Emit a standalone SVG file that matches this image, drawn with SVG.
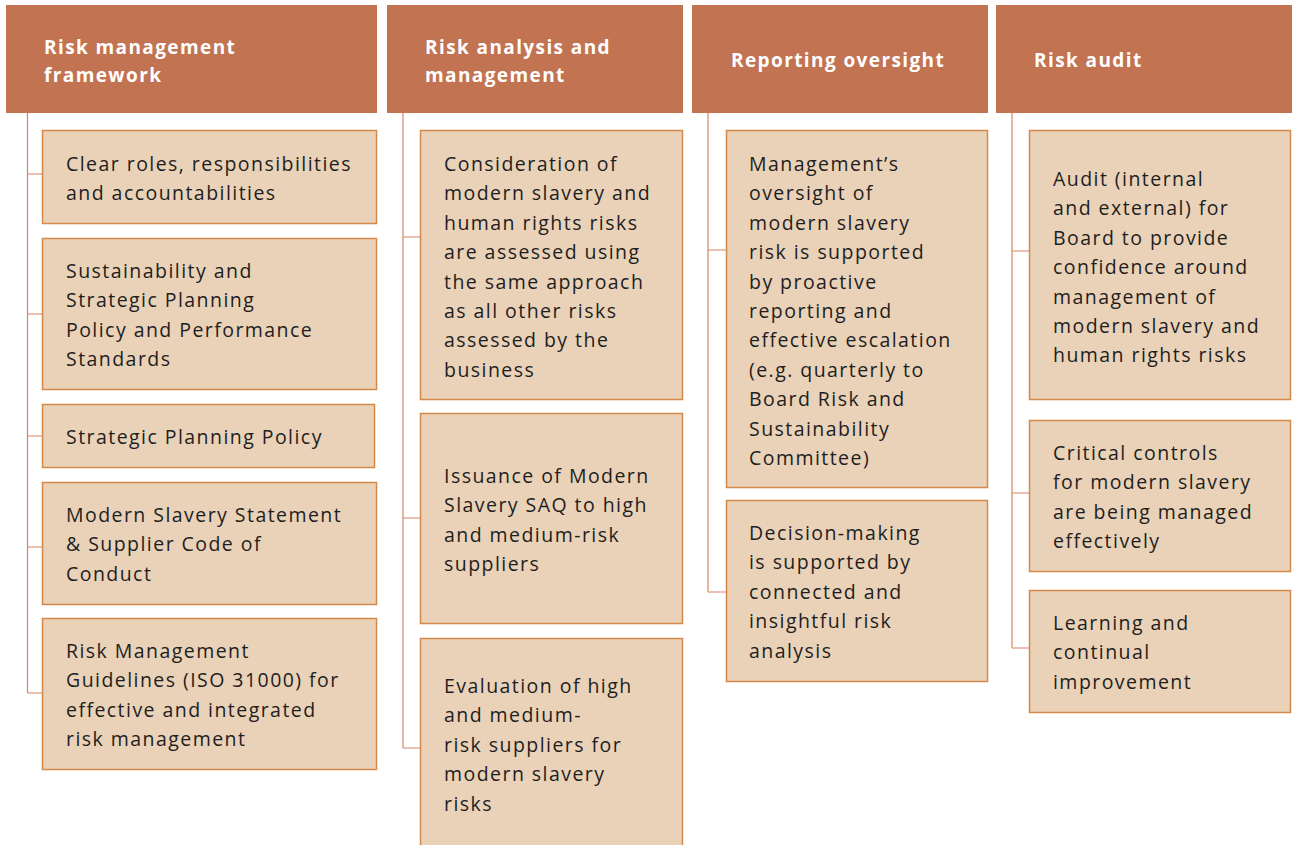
<svg xmlns="http://www.w3.org/2000/svg" width="1292" height="845" viewBox="0 0 1292 845">
  <style>
    .hdr { fill: #C27352; }
    .hdr-t { fill: #ffffff; font-family: "Open Sans", "Liberation Sans", sans-serif; font-weight: 700; font-size: 19px; letter-spacing: 1.4px; }
    .box { fill: #EAD2B8; stroke: #D4884A; stroke-width: 1.5; }
    .txt { fill: #1e1e1e; font-family: "Open Sans", "Liberation Sans", sans-serif; font-size: 19.5px; letter-spacing: 1.45px; }
    .conn { fill: none; stroke: #D98466; stroke-width: 1.2; }
  </style>
  <rect width="1292" height="845" fill="#ffffff"/>

  <!-- connectors: one trunk per column with branches to each box -->
  <g id="connectors">
    <path class="conn" d="M27.5 113 V693 M27.5 174 H42 M27.5 314 H42 M27.5 436 H42 M27.5 547 H42 M27.5 693 H42"/>
    <path class="conn" d="M403 113 V748 M403 237 H420 M403 518 H420 M403 748 H420"/>
    <path class="conn" d="M708 113 V592 M708 250 H726 M708 592 H726"/>
    <path class="conn" d="M1012 113 V648 M1012 251 H1029 M1012 493 H1029 M1012 648 H1029"/>
  </g>

  <!-- column headers -->
  <g id="hdr-framework">
    <rect class="hdr" x="6" y="5" width="371" height="108"/>
    <text class="hdr-t" x="44" y="54">Risk management</text>
    <text class="hdr-t" x="44" y="82">framework</text>
  </g>
  <g id="hdr-analysis">
    <rect class="hdr" x="387" y="5" width="296" height="108"/>
    <text class="hdr-t" x="425" y="54">Risk analysis and</text>
    <text class="hdr-t" x="425" y="82">management</text>
  </g>
  <g id="hdr-reporting">
    <rect class="hdr" x="692" y="5" width="296" height="108"/>
    <text class="hdr-t" x="731" y="67">Reporting oversight</text>
  </g>
  <g id="hdr-audit">
    <rect class="hdr" x="996" y="5" width="296" height="108"/>
    <text class="hdr-t" x="1034" y="67">Risk audit</text>
  </g>

  <!-- column 1 -->
  <g id="roles">
    <rect class="box" x="42.5" y="130.5" width="334" height="93"/>
    <text class="txt" x="66" y="171">Clear roles, responsibilities</text>
    <text class="txt" x="66" y="200.4">and accountabilities</text>
  </g>
  <g id="sustainability">
    <rect class="box" x="42.5" y="238.5" width="334" height="151"/>
    <text class="txt" x="66" y="278">Sustainability and</text>
    <text class="txt" x="66" y="307.4">Strategic Planning</text>
    <text class="txt" x="66" y="336.8">Policy and Performance</text>
    <text class="txt" x="66" y="366.2">Standards</text>
  </g>
  <g id="strategic">
    <rect class="box" x="42.5" y="404.5" width="332" height="63"/>
    <text class="txt" x="66" y="444">Strategic Planning Policy</text>
  </g>
  <g id="statement">
    <rect class="box" x="42.5" y="482.5" width="334" height="122"/>
    <text class="txt" x="66" y="522">Modern Slavery Statement</text>
    <text class="txt" x="66" y="551.4">&amp; Supplier Code of</text>
    <text class="txt" x="66" y="580.8">Conduct</text>
  </g>
  <g id="guidelines">
    <rect class="box" x="42.5" y="618.5" width="334" height="151"/>
    <text class="txt" x="66" y="658">Risk Management</text>
    <text class="txt" x="66" y="687.4">Guidelines (ISO 31000) for</text>
    <text class="txt" x="66" y="716.8">effective and integrated</text>
    <text class="txt" x="66" y="746.2">risk management</text>
  </g>

  <!-- column 2 -->
  <g id="consideration">
    <rect class="box" x="420.5" y="130.5" width="262" height="269"/>
    <text class="txt" x="444" y="171">Consideration of</text>
    <text class="txt" x="444" y="200.4">modern slavery and</text>
    <text class="txt" x="444" y="229.8">human rights risks</text>
    <text class="txt" x="444" y="259.2">are assessed using</text>
    <text class="txt" x="444" y="288.6">the same approach</text>
    <text class="txt" x="444" y="318">as all other risks</text>
    <text class="txt" x="444" y="347.4">assessed by the</text>
    <text class="txt" x="444" y="376.8">business</text>
  </g>
  <g id="issuance">
    <rect class="box" x="420.5" y="413.5" width="262" height="210"/>
    <text class="txt" x="444" y="483">Issuance of Modern</text>
    <text class="txt" x="444" y="512.4">Slavery SAQ to high</text>
    <text class="txt" x="444" y="541.8">and medium-risk</text>
    <text class="txt" x="444" y="571.2">suppliers</text>
  </g>
  <g id="evaluation">
    <rect class="box" x="420.5" y="638.5" width="262" height="220"/>
    <text class="txt" x="444" y="693">Evaluation of high</text>
    <text class="txt" x="444" y="722.4">and medium-</text>
    <text class="txt" x="444" y="751.8">risk suppliers for</text>
    <text class="txt" x="444" y="781.2">modern slavery</text>
    <text class="txt" x="444" y="810.6">risks</text>
  </g>

  <!-- column 3 -->
  <g id="oversight">
    <rect class="box" x="726.5" y="130.5" width="261" height="357"/>
    <text class="txt" x="749" y="171">Management’s</text>
    <text class="txt" x="749" y="200.4">oversight of</text>
    <text class="txt" x="749" y="229.8">modern slavery</text>
    <text class="txt" x="749" y="259.2">risk is supported</text>
    <text class="txt" x="749" y="288.6">by proactive</text>
    <text class="txt" x="749" y="318">reporting and</text>
    <text class="txt" x="749" y="347.4">effective escalation</text>
    <text class="txt" x="749" y="376.8">(e.g. quarterly to</text>
    <text class="txt" x="749" y="406.2">Board Risk and</text>
    <text class="txt" x="749" y="435.6">Sustainability</text>
    <text class="txt" x="749" y="465">Committee)</text>
  </g>
  <g id="decision">
    <rect class="box" x="726.5" y="500.5" width="261" height="181"/>
    <text class="txt" x="749" y="540">Decision-making</text>
    <text class="txt" x="749" y="569.4">is supported by</text>
    <text class="txt" x="749" y="598.8">connected and</text>
    <text class="txt" x="749" y="628.2">insightful risk</text>
    <text class="txt" x="749" y="657.6">analysis</text>
  </g>

  <!-- column 4 -->
  <g id="audit">
    <rect class="box" x="1029.5" y="130.5" width="261" height="269"/>
    <text class="txt" x="1053" y="186">Audit (internal</text>
    <text class="txt" x="1053" y="215.4">and external) for</text>
    <text class="txt" x="1053" y="244.8">Board to provide</text>
    <text class="txt" x="1053" y="274.2">confidence around</text>
    <text class="txt" x="1053" y="303.6">management of</text>
    <text class="txt" x="1053" y="333">modern slavery and</text>
    <text class="txt" x="1053" y="362.4">human rights risks</text>
  </g>
  <g id="controls">
    <rect class="box" x="1029.5" y="420.5" width="261" height="151"/>
    <text class="txt" x="1053" y="460">Critical controls</text>
    <text class="txt" x="1053" y="489.4">for modern slavery</text>
    <text class="txt" x="1053" y="518.8">are being managed</text>
    <text class="txt" x="1053" y="548.2">effectively</text>
  </g>
  <g id="learning">
    <rect class="box" x="1029.5" y="590.5" width="261" height="122"/>
    <text class="txt" x="1053" y="630">Learning and</text>
    <text class="txt" x="1053" y="659.4">continual</text>
    <text class="txt" x="1053" y="688.8">improvement</text>
  </g>
</svg>
